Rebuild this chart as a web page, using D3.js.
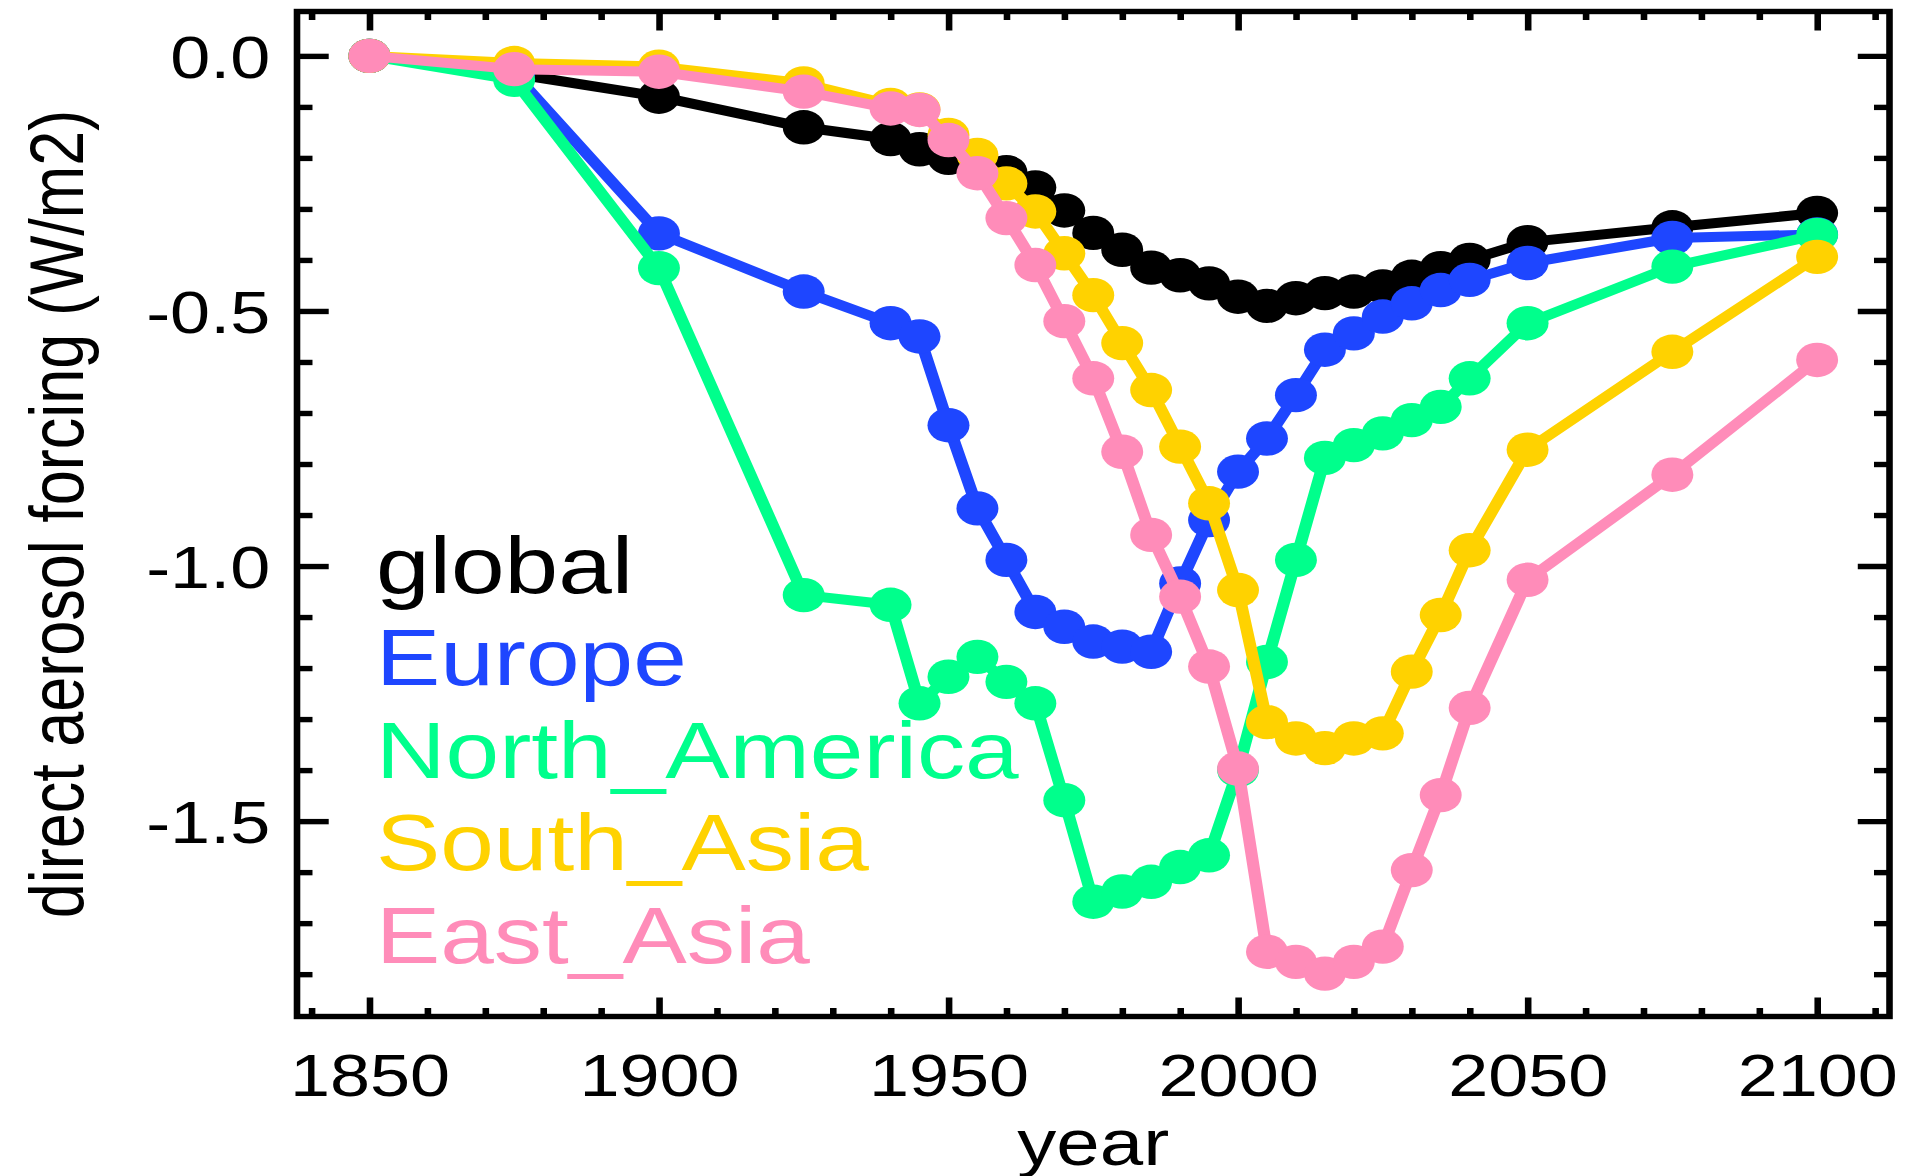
<!DOCTYPE html>
<html>
<head>
<meta charset="utf-8">
<script src="https://cdn.jsdelivr.net/npm/d3@7"></script>
<style>
  html, body { margin: 0; padding: 0; background: #ffffff; overflow: hidden; }
  text { font-family: "Liberation Sans", Arial, Helvetica, sans-serif; }
</style>
</head>
<body>
<script>
// Direct aerosol forcing (W/m2) by source region, 1850-2100
const years = [1850, 1875, 1900, 1925, 1940, 1945, 1950, 1955, 1960, 1965, 1970, 1975, 1980, 1985,
               1990, 1995, 2000, 2005, 2010, 2015, 2020, 2025, 2030, 2035, 2040, 2050, 2075, 2100];

const globalForcing = [0, -0.035, -0.080, -0.140, -0.163, -0.183, -0.200, -0.214, -0.228, -0.258,
  -0.303, -0.347, -0.380, -0.415, -0.430, -0.446, -0.472, -0.490, -0.475, -0.465,
  -0.462, -0.452, -0.433, -0.416, -0.400, -0.365, -0.336, -0.308];

const europe = [0, -0.035, -0.348, -0.462, -0.524, -0.550, -0.724, -0.887, -0.988, -1.090,
  -1.119, -1.148, -1.158, -1.168, -1.034, -0.910, -0.815, -0.750, -0.665, -0.576,
  -0.544, -0.511, -0.485, -0.459, -0.439, -0.406, -0.357, -0.350];

const northAmerica = [0, -0.047, -0.416, -1.057, -1.076, -1.269, -1.217, -1.178, -1.227, -1.269,
  -1.459, -1.658, -1.638, -1.619, -1.590, -1.567, -1.400, -1.188, -0.988, -0.788,
  -0.763, -0.740, -0.714, -0.688, -0.632, -0.524, -0.413, -0.351];

const southAsia = [0, -0.014, -0.021, -0.054, -0.096, -0.105, -0.155, -0.194, -0.250, -0.305,
  -0.387, -0.469, -0.563, -0.655, -0.766, -0.877, -1.047, -1.306, -1.338, -1.357,
  -1.338, -1.328, -1.207, -1.096, -0.969, -0.772, -0.580, -0.394];

const eastAsia = [0, -0.026, -0.031, -0.070, -0.103, -0.106, -0.165, -0.230, -0.318, -0.410,
  -0.520, -0.632, -0.776, -0.939, -1.060, -1.197, -1.397, -1.756, -1.776, -1.799,
  -1.776, -1.746, -1.596, -1.449, -1.278, -1.027, -0.821, -0.596];

const seriesNames  = ["global", "Europe", "North_America", "South_Asia", "East_Asia"];
const seriesValues = [globalForcing, europe, northAmerica, southAsia, eastAsia];
const seriesColors = ["#000000", "#1e46ff", "#00ff8c", "#ffd200", "#ff8cb9"];

const xMajorTicks = [1850, 1900, 1950, 2000, 2050, 2100];
const xMinorTicks = d3.range(1840, 2111, 10).filter(v => v % 50 !== 0);
const yMajorTicks = [0.0, -0.5, -1.0, -1.5];
const yMinorTicks = [-0.1, -0.2, -0.3, -0.4, -0.6, -0.7, -0.8, -0.9, -1.1, -1.2, -1.3, -1.4, -1.6, -1.7, -1.8];

const xTitle = "year";
const yTitle = "direct aerosol forcing (W/m2)";

// ---- layout ----
const W = 1907, H = 1176;
const SX = 1.22;                 // horizontal stretch of the whole drawing
const plot = { left: 297 / SX, right: 1889.5 / SX, top: 11.5, bottom: 1016.5 };

const svg = d3.select("body").append("svg")
  .attr("width", W).attr("height", H)
  .style("display", "block");

const g = svg.append("g").attr("transform", `scale(${SX},1)`);

const x = d3.scaleLinear().domain([1837.5, 2112.5]).range([plot.left, plot.right]);
const y = d3.scaleLinear().domain([-1.883, 0.087]).range([plot.bottom, plot.top]);

const tickStroke = 5.4;
const fmtY = d => d.toFixed(1);

function styleAxis(sel) {
  sel.select(".domain").remove();
  sel.selectAll(".tick line").attr("stroke", "#000").attr("stroke-width", tickStroke);
  sel.selectAll(".tick text").attr("fill", "#000");
}

// bottom axis: major with labels, minor without
g.append("g").attr("transform", `translate(0,${plot.bottom})`)
  .call(d3.axisBottom(x).tickValues(xMajorTicks).tickFormat(d3.format("d"))
    .tickSizeInner(-19).tickSizeOuter(0).tickPadding(38))
  .call(styleAxis)
  .call(s => s.selectAll(".tick text").attr("font-size", 59)
    .style("font-family", "'Liberation Sans', Arial, Helvetica, sans-serif"));

g.append("g").attr("transform", `translate(0,${plot.bottom})`)
  .call(d3.axisBottom(x).tickValues(xMinorTicks).tickFormat("")
    .tickSizeInner(-8.5).tickSizeOuter(0))
  .call(styleAxis);

// top axis (ticks only)
g.append("g").attr("transform", `translate(0,${plot.top})`)
  .call(d3.axisTop(x).tickValues(xMajorTicks).tickFormat("").tickSizeInner(-19).tickSizeOuter(0))
  .call(styleAxis);
g.append("g").attr("transform", `translate(0,${plot.top})`)
  .call(d3.axisTop(x).tickValues(xMinorTicks).tickFormat("").tickSizeInner(-8.5).tickSizeOuter(0))
  .call(styleAxis);

// left axis
g.append("g").attr("transform", `translate(${plot.left},0)`)
  .call(d3.axisLeft(y).tickValues(yMajorTicks).tickFormat(fmtY)
    .tickSizeInner(-26).tickSizeOuter(0).tickPadding(22))
  .call(styleAxis)
  .call(s => s.selectAll(".tick text").attr("font-size", 59).attr("dy", "0.36em")
    .style("font-family", "'Liberation Sans', Arial, Helvetica, sans-serif"));
g.append("g").attr("transform", `translate(${plot.left},0)`)
  .call(d3.axisLeft(y).tickValues(yMinorTicks).tickFormat("").tickSizeInner(-12.7).tickSizeOuter(0))
  .call(styleAxis);

// right axis (ticks only)
g.append("g").attr("transform", `translate(${plot.right},0)`)
  .call(d3.axisRight(y).tickValues(yMajorTicks).tickFormat("").tickSizeInner(-26).tickSizeOuter(0))
  .call(styleAxis);
g.append("g").attr("transform", `translate(${plot.right},0)`)
  .call(d3.axisRight(y).tickValues(yMinorTicks).tickFormat("").tickSizeInner(-12.7).tickSizeOuter(0))
  .call(styleAxis);

// frame
g.append("rect")
  .attr("x", plot.left).attr("y", plot.top)
  .attr("width", plot.right - plot.left).attr("height", plot.bottom - plot.top)
  .attr("fill", "none").attr("stroke", "#000").attr("stroke-width", tickStroke);

// axis titles
g.append("text")
  .attr("x", (plot.left + plot.right) / 2).attr("y", 1165)
  .attr("text-anchor", "middle").attr("font-size", 64).attr("fill", "#000")
  .text(xTitle);

g.append("text")
  .attr("transform", `translate(${83 / SX},${(plot.top + plot.bottom) / 2}) rotate(-90)`)
  .attr("text-anchor", "middle").attr("font-size", 63).attr("fill", "#000")
  .text(yTitle);

// series: line plus filled circle markers, drawn in legend order
const line = d3.line().x(d => x(d.year)).y(d => y(d.v));

seriesValues.forEach((vals, i) => {
  const pts = years.map((yr, j) => ({ year: yr, v: vals[j] }));
  const sg = g.append("g").attr("class", "series");
  sg.append("path")
    .datum(pts)
    .attr("d", line)
    .attr("fill", "none")
    .attr("stroke", seriesColors[i])
    .attr("stroke-width", 10)
    .attr("stroke-linejoin", "round");
  sg.selectAll("circle")
    .data(pts)
    .join("circle")
    .attr("cx", d => x(d.year))
    .attr("cy", d => y(d.v))
    .attr("r", 17.2)
    .attr("fill", seriesColors[i]);
});

// legend
const legendBaselines = [593, 685.5, 778, 870.5, 963];
g.append("g").selectAll("text")
  .data(seriesNames)
  .join("text")
  .attr("x", 376 / SX)
  .attr("y", (d, i) => legendBaselines[i])
  .attr("font-size", 79)
  .attr("fill", (d, i) => seriesColors[i])
  .text(d => d);
</script>
</body>
</html>
